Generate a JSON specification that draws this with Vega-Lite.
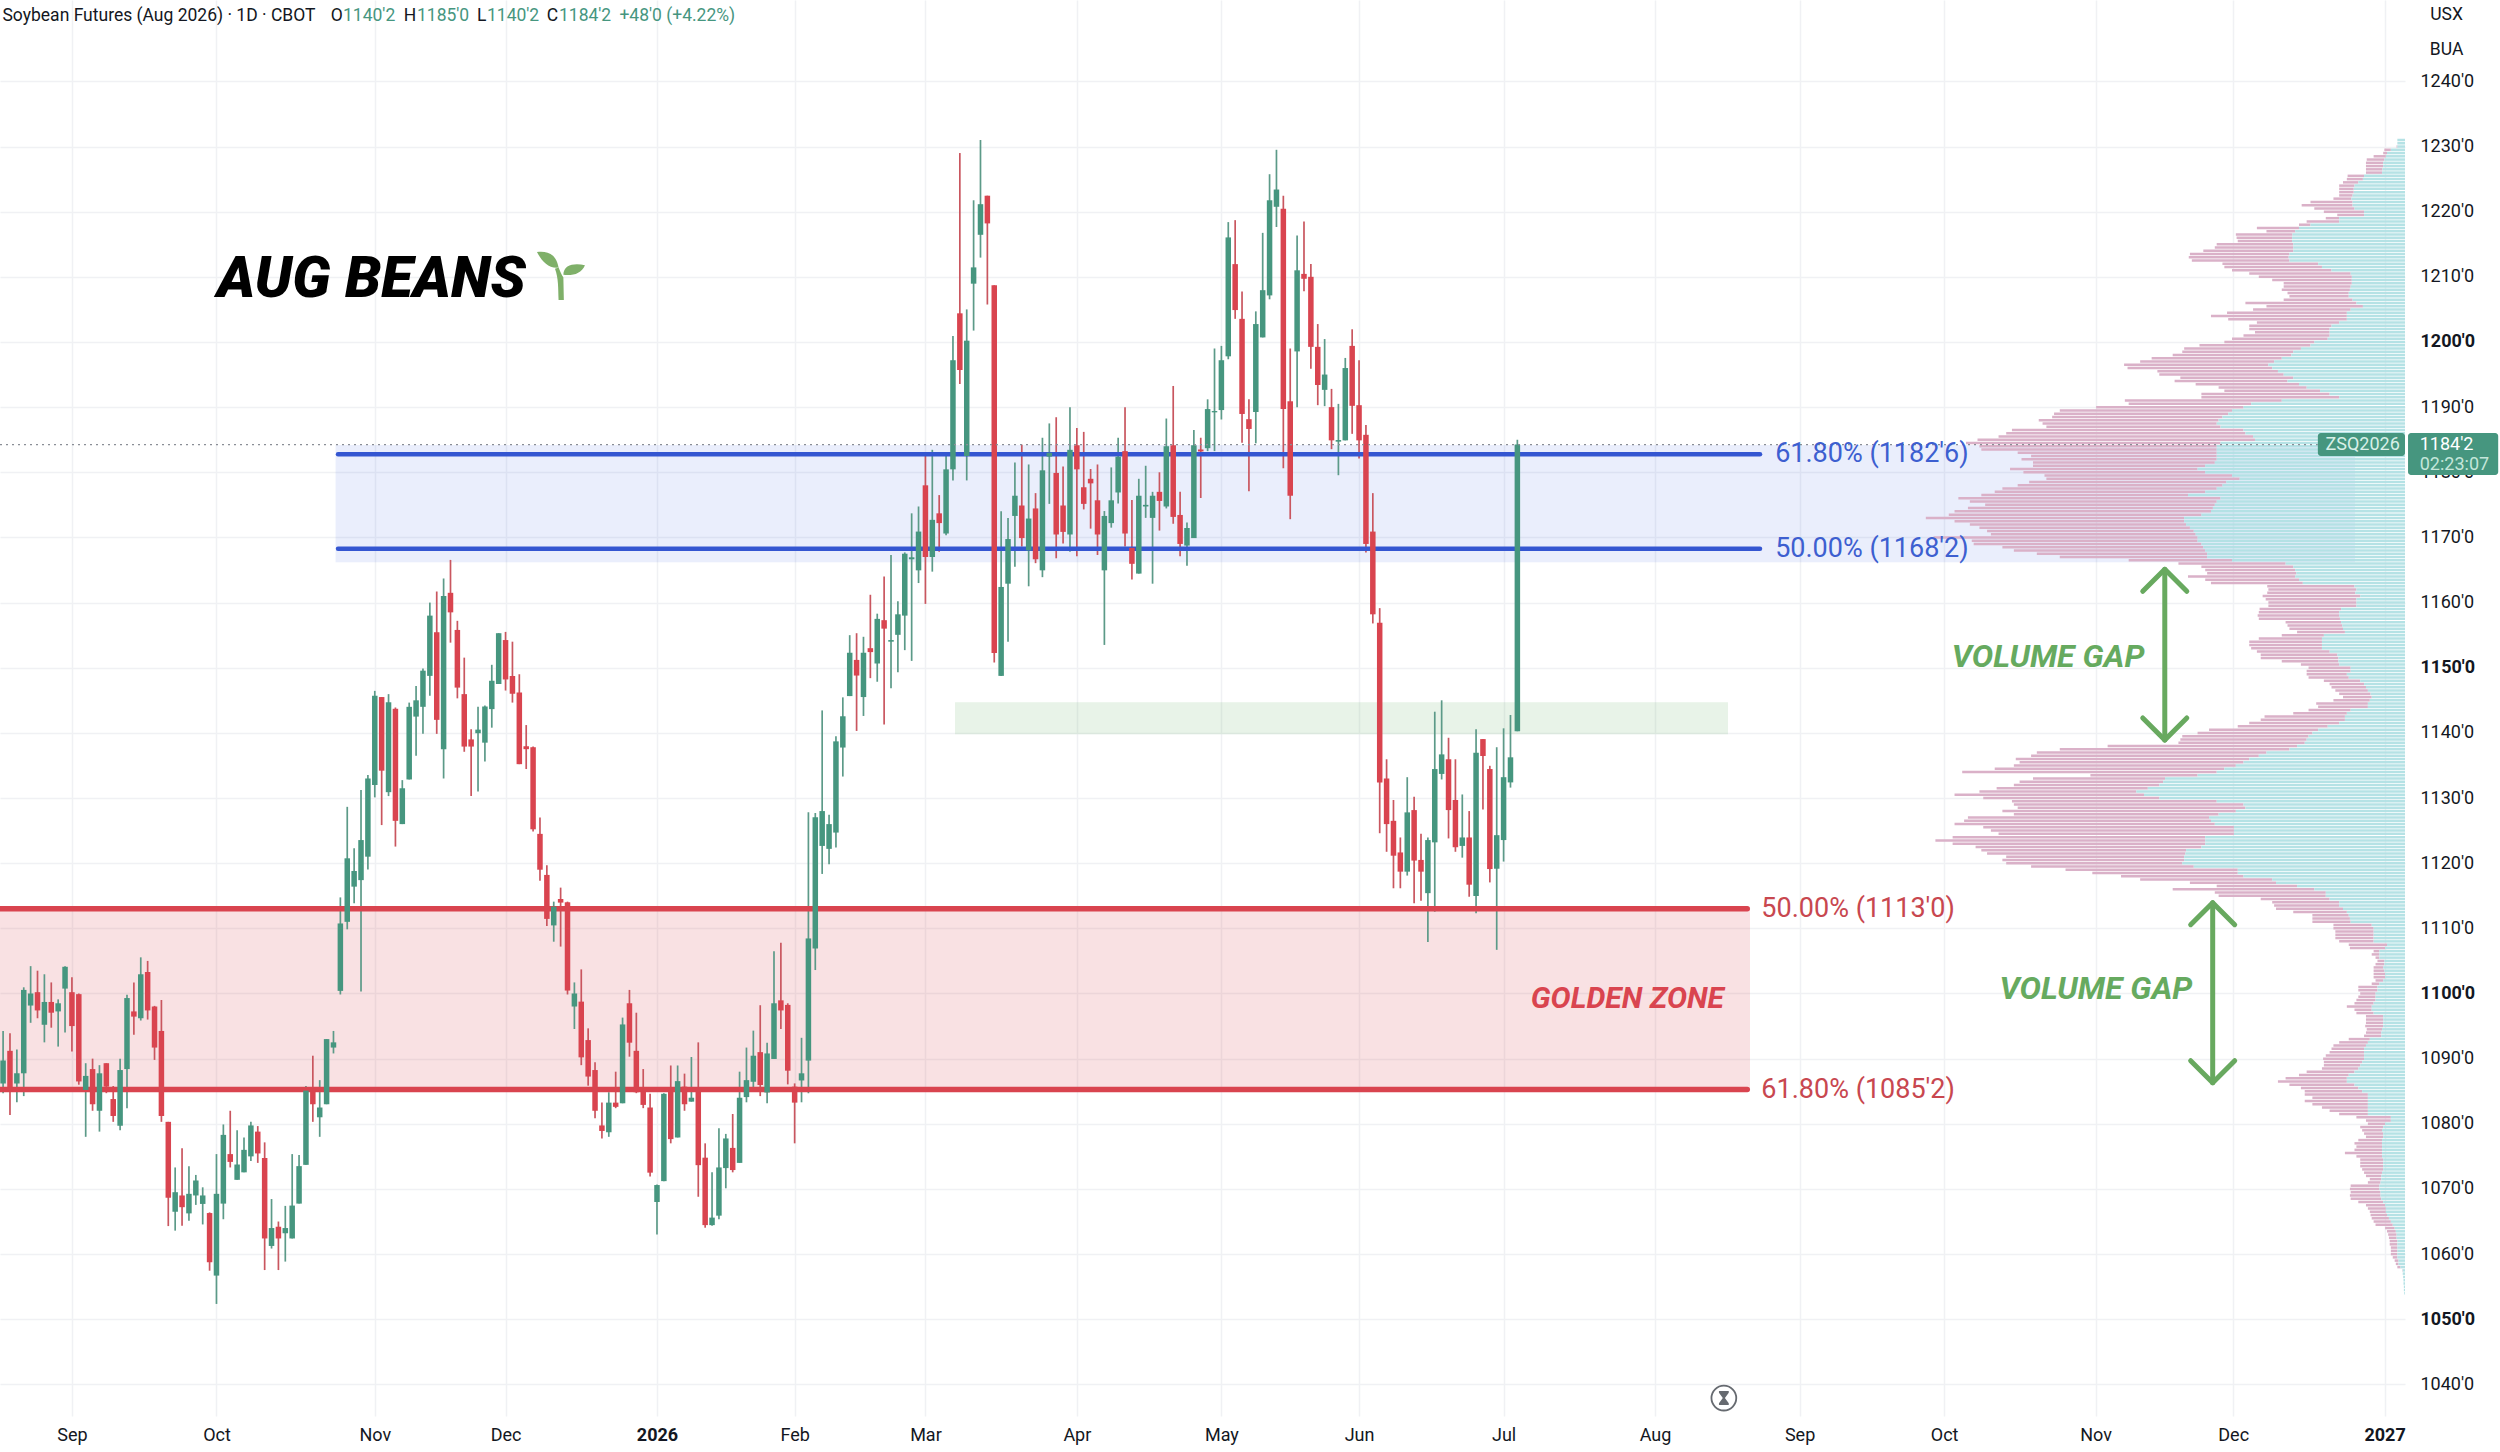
{
"$schema":"https://vega.github.io/schema/vega-lite/v6.json",
"width":2405,"height":1416,
"autosize":{"type":"none"},
"padding":{"left":0,"top":0,"right":95,"bottom":36},
"background":"#ffffff",
"view":{"stroke":null},
"config":{"font":"Roboto","axis":{"labelFont":"Roboto"},"scale":{"continuousPadding":0}},
"resolve":{"scale":{"x":"independent"},"axis":{"x":"independent"}},
"datasets":{
"candles":[
{"i":0,"o":1086.2,"h":1094.25,"l":1084.7,"c":1089.7},
{"i":1,"o":1091.2,"h":1093.9,"l":1081.35,"c":1085.5},
{"i":2,"o":1086.2,"h":1091.4,"l":1083.3,"c":1087.75},
{"i":3,"o":1087.75,"h":1100.95,"l":1084.25,"c":1100.55},
{"i":4,"o":1098.15,"h":1104.2,"l":1095.5,"c":1100},
{"i":5,"o":1100.2,"h":1103.5,"l":1096.2,"c":1097.4},
{"i":6,"o":1095.2,"h":1102.95,"l":1092.5,"c":1098.7},
{"i":7,"o":1098.7,"h":1101.7,"l":1094.75,"c":1097.05},
{"i":8,"o":1097.25,"h":1099.1,"l":1091.85,"c":1098.5},
{"i":9,"o":1100.75,"h":1104.2,"l":1094,"c":1104.1},
{"i":10,"o":1100.2,"h":1102.5,"l":1091.1,"c":1095},
{"i":11,"o":1099.9,"h":1100,"l":1086,"c":1086.5},
{"i":12,"o":1085.2,"h":1089.3,"l":1078,"c":1087.35},
{"i":13,"o":1088.4,"h":1090,"l":1082,"c":1083},
{"i":14,"o":1082,"h":1089,"l":1078.8,"c":1087.75},
{"i":15,"o":1089.3,"h":1089.3,"l":1084.7,"c":1085.7},
{"i":16,"o":1083.8,"h":1085.8,"l":1080.3,"c":1081.2},
{"i":17,"o":1079.7,"h":1090,"l":1079,"c":1088.25},
{"i":18,"o":1088.4,"h":1099.8,"l":1082.4,"c":1099.3},
{"i":19,"o":1097.25,"h":1101.7,"l":1093.65,"c":1096.45},
{"i":20,"o":1096.2,"h":1105.55,"l":1095.85,"c":1102.95},
{"i":21,"o":1103.3,"h":1105,"l":1096,"c":1097.4},
{"i":22,"o":1098,"h":1098.1,"l":1089.8,"c":1091.7},
{"i":23,"o":1094.25,"h":1099,"l":1080.3,"c":1081.2},
{"i":24,"o":1080.3,"h":1080.3,"l":1064.3,"c":1068.65},
{"i":25,"o":1066.5,"h":1073.3,"l":1063.6,"c":1069.5},
{"i":26,"o":1069,"h":1076.25,"l":1064.35,"c":1067.2},
{"i":27,"o":1066.25,"h":1073.5,"l":1065.1,"c":1069.25},
{"i":28,"o":1069,"h":1072.15,"l":1067.55,"c":1071.3},
{"i":29,"o":1067.7,"h":1070.25,"l":1064.55,"c":1069},
{"i":30,"o":1066.3,"h":1066.4,"l":1057.45,"c":1058.75},
{"i":31,"o":1056.7,"h":1075.35,"l":1052.35,"c":1069.25},
{"i":32,"o":1067.75,"h":1079.9,"l":1065.35,"c":1078.3},
{"i":33,"o":1075.35,"h":1082,"l":1073.3,"c":1074.15},
{"i":34,"o":1071.4,"h":1079,"l":1071.4,"c":1073.75},
{"i":35,"o":1072.55,"h":1077.9,"l":1072.55,"c":1076},
{"i":36,"o":1075,"h":1080.3,"l":1074.3,"c":1079.75},
{"i":37,"o":1078.8,"h":1079.65,"l":1074,"c":1075.45},
{"i":38,"o":1074.75,"h":1077.15,"l":1057.55,"c":1062.4},
{"i":39,"o":1061.25,"h":1068.45,"l":1060.85,"c":1064},
{"i":40,"o":1064.2,"h":1065,"l":1057.55,"c":1062.4},
{"i":41,"o":1063.2,"h":1067.4,"l":1058.85,"c":1064},
{"i":42,"o":1062.4,"h":1075.35,"l":1062.4,"c":1067.45},
{"i":43,"o":1067.75,"h":1075.2,"l":1067.75,"c":1073.5},
{"i":44,"o":1073.7,"h":1085.8,"l":1073.7,"c":1085.1},
{"i":45,"o":1085.45,"h":1090.45,"l":1080.3,"c":1083},
{"i":46,"o":1081,"h":1086.7,"l":1078,"c":1082.5},
{"i":47,"o":1083,"h":1093,"l":1083,"c":1093},
{"i":48,"o":1091.7,"h":1094.25,"l":1090.8,"c":1092.5},
{"i":49,"o":1100.4,"h":1114.75,"l":1099.85,"c":1110.75},
{"i":50,"o":1111,"h":1128.65,"l":1109.85,"c":1120.75},
{"i":51,"o":1116.4,"h":1122.3,"l":1113.85,"c":1118.8},
{"i":52,"o":1117.4,"h":1131.25,"l":1100.3,"c":1123.55},
{"i":53,"o":1121,"h":1133.55,"l":1119.05,"c":1133},
{"i":54,"o":1132,"h":1146.45,"l":1130.1,"c":1145.7},
{"i":55,"o":1145.5,"h":1145.5,"l":1125.85,"c":1134.2},
{"i":56,"o":1130.9,"h":1145.95,"l":1130.3,"c":1144.7},
{"i":57,"o":1143.7,"h":1143.9,"l":1122.55,"c":1126.5},
{"i":58,"o":1126,"h":1132.75,"l":1126,"c":1131.5},
{"i":59,"o":1132.85,"h":1144.65,"l":1132.85,"c":1144},
{"i":60,"o":1142.5,"h":1147.2,"l":1136.5,"c":1145},
{"i":61,"o":1144,"h":1149.9,"l":1139.85,"c":1149.55},
{"i":62,"o":1148.75,"h":1160,"l":1145.7,"c":1158},
{"i":63,"o":1155.45,"h":1161.7,"l":1139.85,"c":1142},
{"i":64,"o":1137.5,"h":1163.7,"l":1133,"c":1161},
{"i":65,"o":1161.5,"h":1166.55,"l":1153.85,"c":1158.5},
{"i":66,"o":1155.8,"h":1157.2,"l":1145.3,"c":1146.95},
{"i":67,"o":1145.95,"h":1151.55,"l":1137.1,"c":1137.9},
{"i":68,"o":1139,"h":1140.55,"l":1130.3,"c":1137.9},
{"i":69,"o":1139.95,"h":1144,"l":1131,"c":1140.5},
{"i":70,"o":1138.5,"h":1144.2,"l":1135.6,"c":1144.05},
{"i":71,"o":1143.65,"h":1150.45,"l":1140.8,"c":1148},
{"i":72,"o":1147.5,"h":1155.3,"l":1147.5,"c":1155.3},
{"i":73,"o":1154.25,"h":1155.5,"l":1146.5,"c":1148.2},
{"i":74,"o":1148.75,"h":1154,"l":1144.65,"c":1146},
{"i":75,"o":1146.2,"h":1149,"l":1135.2,"c":1135.2},
{"i":76,"o":1137.95,"h":1141.2,"l":1134.45,"c":1137.5},
{"i":77,"o":1137.8,"h":1137.9,"l":1124.85,"c":1125.2},
{"i":78,"o":1124.5,"h":1127,"l":1117.3,"c":1119},
{"i":79,"o":1118.2,"h":1119.7,"l":1110.35,"c":1111.45},
{"i":80,"o":1110.45,"h":1114.1,"l":1107.95,"c":1113.35},
{"i":81,"o":1114.5,"h":1116.25,"l":1107.2,"c":1113.95},
{"i":82,"o":1114,"h":1114.1,"l":1099.85,"c":1100.45},
{"i":83,"o":1098,"h":1101.7,"l":1094.55,"c":1100},
{"i":84,"o":1098.75,"h":1103.7,"l":1089,"c":1090.2},
{"i":85,"o":1092.85,"h":1094.65,"l":1085.85,"c":1087.25},
{"i":86,"o":1088.25,"h":1089.45,"l":1080.85,"c":1082},
{"i":87,"o":1079.75,"h":1083.25,"l":1077.75,"c":1078.9},
{"i":88,"o":1078.7,"h":1084.85,"l":1078,"c":1083.25},
{"i":89,"o":1083.25,"h":1088,"l":1082.4,"c":1082.6},
{"i":90,"o":1083.15,"h":1096.3,"l":1083.15,"c":1095.25},
{"i":91,"o":1098.5,"h":1100.55,"l":1090.3,"c":1092.45},
{"i":92,"o":1091.2,"h":1097.05,"l":1084.7,"c":1084.85},
{"i":93,"o":1084.95,"h":1088.4,"l":1082.4,"c":1082.9},
{"i":94,"o":1082.5,"h":1084.6,"l":1071.9,"c":1072.5},
{"i":95,"o":1068,"h":1070.7,"l":1063,"c":1070.6},
{"i":96,"o":1071.2,"h":1084.7,"l":1071.2,"c":1084.6},
{"i":97,"o":1085.1,"h":1088.95,"l":1077,"c":1077.65},
{"i":98,"o":1077.9,"h":1088.95,"l":1077.9,"c":1086.55},
{"i":99,"o":1085.7,"h":1087.7,"l":1082,"c":1083},
{"i":100,"o":1083.4,"h":1090.25,"l":1083.4,"c":1084},
{"i":101,"o":1085.45,"h":1092.5,"l":1068.8,"c":1073.65},
{"i":102,"o":1074.8,"h":1077,"l":1064.05,"c":1064.45},
{"i":103,"o":1064.45,"h":1072.55,"l":1064.35,"c":1065.6},
{"i":104,"o":1065.9,"h":1079.3,"l":1065.35,"c":1073.3},
{"i":105,"o":1073.2,"h":1078.45,"l":1070.1,"c":1077.75},
{"i":106,"o":1076.3,"h":1081.5,"l":1072.55,"c":1072.9},
{"i":107,"o":1074,"h":1088,"l":1074,"c":1084},
{"i":108,"o":1084.1,"h":1091.7,"l":1083.3,"c":1086.7},
{"i":109,"o":1086.45,"h":1094.3,"l":1084.9,"c":1090.45},
{"i":110,"o":1091,"h":1098.2,"l":1084.25,"c":1085.95},
{"i":111,"o":1084.8,"h":1092.45,"l":1083.15,"c":1090.8},
{"i":112,"o":1089.95,"h":1106.5,"l":1089.95,"c":1098.5},
{"i":113,"o":1098.95,"h":1107.8,"l":1094.55,"c":1097.4},
{"i":114,"o":1098.25,"h":1098.5,"l":1086.05,"c":1088.15},
{"i":115,"o":1085.7,"h":1086.2,"l":1077,"c":1083.25},
{"i":116,"o":1086.65,"h":1093.2,"l":1083.3,"c":1087.75},
{"i":117,"o":1089.7,"h":1127.8,"l":1084.7,"c":1108.45},
{"i":118,"o":1106.9,"h":1127.7,"l":1103.6,"c":1127.05},
{"i":119,"o":1122.65,"h":1143.45,"l":1118.35,"c":1128},
{"i":120,"o":1122.2,"h":1127.45,"l":1119.85,"c":1126},
{"i":121,"o":1124.7,"h":1139.5,"l":1122.4,"c":1138.7},
{"i":122,"o":1137.75,"h":1145.45,"l":1133.3,"c":1142.55},
{"i":123,"o":1145.65,"h":1155,"l":1145.65,"c":1152.3},
{"i":124,"o":1151.2,"h":1155.3,"l":1140.3,"c":1148.8},
{"i":125,"o":1145.5,"h":1154.75,"l":1142.6,"c":1152.3},
{"i":126,"o":1153,"h":1161.2,"l":1148.4,"c":1152.4},
{"i":127,"o":1150.65,"h":1158.3,"l":1147.85,"c":1157.5},
{"i":128,"o":1157.3,"h":1164,"l":1141.3,"c":1156},
{"i":129,"o":1154,"h":1167.3,"l":1146.85,"c":1154.25},
{"i":130,"o":1155.05,"h":1160.2,"l":1149.3,"c":1158.2},
{"i":131,"o":1158,"h":1167.7,"l":1152.7,"c":1167.5},
{"i":132,"o":1166.65,"h":1173.7,"l":1151.05,"c":1166.95},
{"i":133,"o":1164.95,"h":1174.75,"l":1163,"c":1170.9},
{"i":134,"o":1178,"h":1182.65,"l":1159.8,"c":1167},
{"i":135,"o":1167,"h":1183.45,"l":1164.75,"c":1172.7},
{"i":136,"o":1173.7,"h":1176.5,"l":1167.8,"c":1172.2},
{"i":137,"o":1170.6,"h":1183.1,"l":1170.35,"c":1180.45},
{"i":138,"o":1180.45,"h":1200.9,"l":1178.75,"c":1197.2},
{"i":139,"o":1204.4,"h":1229,"l":1193.55,"c":1195.7},
{"i":140,"o":1182.5,"h":1205,"l":1178.75,"c":1200.2},
{"i":141,"o":1208.95,"h":1221.75,"l":1201.75,"c":1211.45},
{"i":142,"o":1216.45,"h":1231,"l":1212.95,"c":1221.15},
{"i":143,"o":1222.45,"h":1222.45,"l":1205.75,"c":1218.2},
{"i":144,"o":1208.7,"h":1208.7,"l":1150.8,"c":1152.25},
{"i":145,"o":1148.75,"h":1174,"l":1148.75,"c":1162.4},
{"i":146,"o":1162.9,"h":1173,"l":1154,"c":1169.75},
{"i":147,"o":1173.3,"h":1181.5,"l":1165.5,"c":1176.4},
{"i":148,"o":1174.9,"h":1184.25,"l":1168.6,"c":1169.9},
{"i":149,"o":1168,"h":1181.2,"l":1162.5,"c":1172.9},
{"i":150,"o":1174.45,"h":1176.8,"l":1166.05,"c":1166.65},
{"i":151,"o":1164.95,"h":1185.3,"l":1163.9,"c":1180.3},
{"i":152,"o":1182.4,"h":1187.5,"l":1175.15,"c":1183},
{"i":153,"o":1179.9,"h":1188.45,"l":1166.8,"c":1170.45},
{"i":154,"o":1174.9,"h":1180.9,"l":1169.05,"c":1170.85},
{"i":155,"o":1170.45,"h":1190,"l":1167.8,"c":1183.45},
{"i":156,"o":1184.15,"h":1186.8,"l":1167.1,"c":1180.45},
{"i":157,"o":1177.7,"h":1186.2,"l":1174.3,"c":1175.15},
{"i":158,"o":1179,"h":1180.5,"l":1171.35,"c":1178.3},
{"i":159,"o":1175.7,"h":1181.2,"l":1167.3,"c":1170.45},
{"i":160,"o":1164.95,"h":1174.05,"l":1153.5,"c":1173.3},
{"i":161,"o":1172.2,"h":1180.75,"l":1171.5,"c":1175.7},
{"i":162,"o":1176.9,"h":1185.3,"l":1175.2,"c":1182.4},
{"i":163,"o":1183.25,"h":1190,"l":1168.6,"c":1170.6},
{"i":164,"o":1168.4,"h":1175.75,"l":1163.55,"c":1165.95},
{"i":165,"o":1164.45,"h":1179,"l":1164.45,"c":1176.4},
{"i":166,"o":1174.75,"h":1181,"l":1173,"c":1175},
{"i":167,"o":1173,"h":1177,"l":1162.9,"c":1176.4},
{"i":168,"o":1177,"h":1180,"l":1171.05,"c":1175.6},
{"i":169,"o":1174.75,"h":1188.25,"l":1174.45,"c":1184},
{"i":170,"o":1184.15,"h":1193.25,"l":1172.1,"c":1173.15},
{"i":171,"o":1173.45,"h":1177,"l":1167.1,"c":1169},
{"i":172,"o":1168.75,"h":1172.3,"l":1165.65,"c":1171.45},
{"i":173,"o":1169.9,"h":1186.5,"l":1169.9,"c":1184.15},
{"i":174,"o":1183.5,"h":1185.3,"l":1176.05,"c":1183.2},
{"i":175,"o":1183.7,"h":1191.2,"l":1183.25,"c":1189.7},
{"i":176,"o":1189.2,"h":1199,"l":1183.25,"c":1189.4},
{"i":177,"o":1189.55,"h":1199.4,"l":1188.1,"c":1197.2},
{"i":178,"o":1197.8,"h":1218.4,"l":1197.35,"c":1216.05},
{"i":179,"o":1211.95,"h":1218.7,"l":1203.55,"c":1204.9},
{"i":180,"o":1203.55,"h":1207.75,"l":1184.55,"c":1188.95},
{"i":181,"o":1188.15,"h":1191.2,"l":1177.1,"c":1186.65},
{"i":182,"o":1189.25,"h":1204.7,"l":1184.45,"c":1202.75},
{"i":183,"o":1200.7,"h":1216.75,"l":1200.7,"c":1207.95},
{"i":184,"o":1207.15,"h":1225.75,"l":1206.55,"c":1221.75},
{"i":185,"o":1220.75,"h":1229.5,"l":1217.65,"c":1223.4},
{"i":186,"o":1220.45,"h":1222.45,"l":1180.6,"c":1189.7},
{"i":187,"o":1190.9,"h":1199,"l":1172.8,"c":1176.4},
{"i":188,"o":1198.55,"h":1216.35,"l":1190,"c":1211},
{"i":189,"o":1210.45,"h":1218.5,"l":1207.8,"c":1209.7},
{"i":190,"o":1210,"h":1211.95,"l":1195.9,"c":1199.25},
{"i":191,"o":1199.25,"h":1202.75,"l":1190.3,"c":1193.4},
{"i":192,"o":1192.65,"h":1200.45,"l":1190.15,"c":1195},
{"i":193,"o":1190,"h":1192.8,"l":1183.55,"c":1184.9},
{"i":194,"o":1184.7,"h":1190.5,"l":1179.55,"c":1184.95},
{"i":195,"o":1184.9,"h":1197.55,"l":1184.9,"c":1196},
{"i":196,"o":1199.4,"h":1201.95,"l":1185.9,"c":1190.2},
{"i":197,"o":1190.3,"h":1197.2,"l":1182.1,"c":1184.9},
{"i":198,"o":1185.75,"h":1187.25,"l":1167.7,"c":1169},
{"i":199,"o":1170.9,"h":1176.8,"l":1156.8,"c":1158.2},
{"i":200,"o":1156.9,"h":1159.15,"l":1124.6,"c":1132.4},
{"i":201,"o":1133,"h":1135.95,"l":1121.75,"c":1126},
{"i":202,"o":1126.5,"h":1129.7,"l":1116.15,"c":1121.15},
{"i":203,"o":1121.65,"h":1123.95,"l":1116.15,"c":1118.7},
{"i":204,"o":1118.7,"h":1133.2,"l":1118.1,"c":1127.8},
{"i":205,"o":1128.15,"h":1130.2,"l":1113.85,"c":1120.4},
{"i":206,"o":1120.5,"h":1124.5,"l":1114.25,"c":1118.7},
{"i":207,"o":1115.4,"h":1123.95,"l":1107.9,"c":1123.55},
{"i":208,"o":1123.2,"h":1143.25,"l":1112.55,"c":1134.45},
{"i":209,"o":1133.7,"h":1145,"l":1132.85,"c":1136.7},
{"i":210,"o":1135.95,"h":1139.25,"l":1123.8,"c":1128.15},
{"i":211,"o":1129.7,"h":1135.95,"l":1121.75,"c":1122.45},
{"i":212,"o":1122.65,"h":1130.55,"l":1120.85,"c":1123.95},
{"i":213,"o":1123.95,"h":1128,"l":1114.85,"c":1116.7},
{"i":214,"o":1114.95,"h":1140.55,"l":1112.3,"c":1136.95},
{"i":215,"o":1139.05,"h":1139.05,"l":1128.25,"c":1136.45},
{"i":216,"o":1134.45,"h":1134.95,"l":1117.05,"c":1119.1},
{"i":217,"o":1119.15,"h":1137.8,"l":1106.7,"c":1124.3},
{"i":218,"o":1123.55,"h":1140.7,"l":1120.25,"c":1133.2},
{"i":219,"o":1132.4,"h":1142.75,"l":1131.6,"c":1136.25},
{"i":220,"o":1140.25,"h":1185,"l":1140.25,"c":1184.25}
],
"profile":[
{"p":1231,"t":20,"u":20},{"p":1230.5,"t":20,"u":20},{"p":1230,"t":22,"u":20},{"p":1229.5,"t":54,"u":37},{"p":1229,"t":57,"u":47},{"p":1228.5,"t":82,"u":50},{"p":1228,"t":100,"u":54},{"p":1227.5,"t":102,"u":57},{"p":1227,"t":102,"u":57},{"p":1226.5,"t":102,"u":59},{"p":1226,"t":102,"u":60},{"p":1225.5,"t":150,"u":107},{"p":1225,"t":152,"u":110},{"p":1224.5,"t":162,"u":122},{"p":1224,"t":172,"u":132},{"p":1223.5,"t":172,"u":134},{"p":1223,"t":172,"u":134},{"p":1222.5,"t":172,"u":137},{"p":1222,"t":187,"u":140},{"p":1221.5,"t":247,"u":137},{"p":1221,"t":270,"u":137},{"p":1220.5,"t":237,"u":132},{"p":1220,"t":212,"u":107},{"p":1219.5,"t":177,"u":107},{"p":1219,"t":207,"u":172},{"p":1218.5,"t":257,"u":172},{"p":1218,"t":277,"u":247},{"p":1217.5,"t":387,"u":277},{"p":1217,"t":362,"u":287},{"p":1216.5,"t":442,"u":294},{"p":1216,"t":440,"u":295},{"p":1215.5,"t":437,"u":295},{"p":1215,"t":492,"u":292},{"p":1214.5,"t":497,"u":292},{"p":1214,"t":527,"u":292},{"p":1213.5,"t":562,"u":302},{"p":1213,"t":565,"u":304},{"p":1212.5,"t":557,"u":302},{"p":1212,"t":477,"u":227},{"p":1211.5,"t":472,"u":217},{"p":1211,"t":452,"u":192},{"p":1210.5,"t":407,"u":142},{"p":1210,"t":382,"u":139},{"p":1209.5,"t":347,"u":139},{"p":1209,"t":317,"u":139},{"p":1208.5,"t":317,"u":142},{"p":1208,"t":322,"u":144},{"p":1207.5,"t":307,"u":147},{"p":1207,"t":302,"u":147},{"p":1206.5,"t":317,"u":137},{"p":1206,"t":417,"u":127},{"p":1205.5,"t":362,"u":110},{"p":1205,"t":397,"u":142},{"p":1204.5,"t":465,"u":152},{"p":1204,"t":507,"u":152},{"p":1203.5,"t":462,"u":152},{"p":1203,"t":387,"u":172},{"p":1202.5,"t":407,"u":192},{"p":1202,"t":407,"u":197},{"p":1201.5,"t":392,"u":197},{"p":1201,"t":422,"u":197},{"p":1200.5,"t":452,"u":202},{"p":1200,"t":472,"u":237},{"p":1199.5,"t":537,"u":247},{"p":1199,"t":577,"u":272},{"p":1198.5,"t":582,"u":292},{"p":1198,"t":607,"u":297},{"p":1197.5,"t":662,"u":322},{"p":1197,"t":692,"u":342},{"p":1196.5,"t":734,"u":357},{"p":1196,"t":725,"u":347},{"p":1195.5,"t":647,"u":332},{"p":1195,"t":642,"u":317},{"p":1194.5,"t":587,"u":292},{"p":1194,"t":602,"u":307},{"p":1193.5,"t":547,"u":277},{"p":1193,"t":487,"u":257},{"p":1192.5,"t":472,"u":222},{"p":1192,"t":532,"u":197},{"p":1191.5,"t":532,"u":172},{"p":1191,"t":732,"u":322},{"p":1190.5,"t":722,"u":402},{"p":1190,"t":807,"u":422},{"p":1189.5,"t":902,"u":452},{"p":1189,"t":917,"u":462},{"p":1188.5,"t":922,"u":477},{"p":1188,"t":957,"u":487},{"p":1187.5,"t":947,"u":492},{"p":1187,"t":937,"u":482},{"p":1186.5,"t":1027,"u":422},{"p":1186,"t":1042,"u":417},{"p":1185.5,"t":1062,"u":397},{"p":1185,"t":1117,"u":392},{"p":1184.5,"t":1147,"u":482},{"p":1184,"t":1112,"u":492},{"p":1183.5,"t":1107,"u":492},{"p":1183,"t":1012,"u":492},{"p":1182.5,"t":977,"u":492},{"p":1182,"t":1002,"u":492},{"p":1181.5,"t":972,"u":497},{"p":1181,"t":972,"u":522},{"p":1180.5,"t":1032,"u":542},{"p":1180,"t":997,"u":522},{"p":1179.5,"t":942,"u":452},{"p":1179,"t":937,"u":432},{"p":1178.5,"t":982,"u":467},{"p":1178,"t":1012,"u":477},{"p":1177.5,"t":1052,"u":492},{"p":1177,"t":1072,"u":522},{"p":1176.5,"t":1107,"u":567},{"p":1176,"t":1167,"u":482},{"p":1175.5,"t":1137,"u":492},{"p":1175,"t":1097,"u":497},{"p":1174.5,"t":1142,"u":502},{"p":1174,"t":1177,"u":507},{"p":1173.5,"t":1192,"u":532},{"p":1173,"t":1252,"u":577},{"p":1172.5,"t":1177,"u":577},{"p":1172,"t":1137,"u":572},{"p":1171.5,"t":1112,"u":562},{"p":1171,"t":1092,"u":552},{"p":1170.5,"t":1082,"u":547},{"p":1170,"t":1232,"u":542},{"p":1169.5,"t":1132,"u":542},{"p":1169,"t":1127,"u":532},{"p":1168.5,"t":1052,"u":527},{"p":1168,"t":1022,"u":522},{"p":1167.5,"t":962,"u":517},{"p":1167,"t":902,"u":517},{"p":1166.5,"t":722,"u":452},{"p":1166,"t":592,"u":312},{"p":1165.5,"t":532,"u":292},{"p":1165,"t":522,"u":287},{"p":1164.5,"t":517,"u":284},{"p":1164,"t":567,"u":287},{"p":1163.5,"t":522,"u":277},{"p":1163,"t":507,"u":267},{"p":1162.5,"t":360,"u":132},{"p":1162,"t":357,"u":127},{"p":1161.5,"t":360,"u":130},{"p":1161,"t":372,"u":117},{"p":1160.5,"t":364,"u":127},{"p":1160,"t":357,"u":127},{"p":1159.5,"t":357,"u":127},{"p":1159,"t":380,"u":167},{"p":1158.5,"t":382,"u":172},{"p":1158,"t":385,"u":172},{"p":1157.5,"t":382,"u":170},{"p":1157,"t":312,"u":167},{"p":1156.5,"t":307,"u":164},{"p":1156,"t":302,"u":162},{"p":1155.5,"t":282,"u":157},{"p":1155,"t":322,"u":212},{"p":1154.5,"t":382,"u":217},{"p":1154,"t":407,"u":217},{"p":1153.5,"t":407,"u":217},{"p":1153,"t":402,"u":217},{"p":1152.5,"t":387,"u":197},{"p":1152,"t":377,"u":177},{"p":1151.5,"t":377,"u":174},{"p":1151,"t":322,"u":174},{"p":1150.5,"t":272,"u":172},{"p":1150,"t":252,"u":142},{"p":1149.5,"t":257,"u":142},{"p":1149,"t":257,"u":152},{"p":1148.5,"t":252,"u":147},{"p":1148,"t":212,"u":117},{"p":1147.5,"t":197,"u":107},{"p":1147,"t":192,"u":102},{"p":1146.5,"t":182,"u":97},{"p":1146,"t":172,"u":90},{"p":1145.5,"t":162,"u":87},{"p":1145,"t":187,"u":92},{"p":1144.5,"t":232,"u":97},{"p":1144,"t":227,"u":97},{"p":1143.5,"t":252,"u":142},{"p":1143,"t":292,"u":152},{"p":1142.5,"t":367,"u":157},{"p":1142,"t":377,"u":157},{"p":1141.5,"t":407,"u":172},{"p":1141,"t":437,"u":202},{"p":1140.5,"t":512,"u":227},{"p":1140,"t":542,"u":242},{"p":1139.5,"t":582,"u":252},{"p":1139,"t":587,"u":257},{"p":1138.5,"t":592,"u":262},{"p":1138,"t":777,"u":282},{"p":1137.5,"t":902,"u":302},{"p":1137,"t":962,"u":362},{"p":1136.5,"t":977,"u":382},{"p":1136,"t":1017,"u":407},{"p":1135.5,"t":1007,"u":422},{"p":1135,"t":1022,"u":442},{"p":1134.5,"t":1072,"u":472},{"p":1134,"t":1157,"u":492},{"p":1133.5,"t":822,"u":542},{"p":1133,"t":972,"u":627},{"p":1132.5,"t":1007,"u":632},{"p":1132,"t":1022,"u":642},{"p":1131.5,"t":1067,"u":672},{"p":1131,"t":1112,"u":702},{"p":1130.5,"t":1177,"u":682},{"p":1130,"t":1102,"u":642},{"p":1129.5,"t":1027,"u":492},{"p":1129,"t":1022,"u":422},{"p":1128.5,"t":1012,"u":417},{"p":1128,"t":1052,"u":442},{"p":1127.5,"t":1022,"u":487},{"p":1127,"t":1142,"u":512},{"p":1126.5,"t":1152,"u":507},{"p":1126,"t":1177,"u":497},{"p":1125.5,"t":1102,"u":447},{"p":1125,"t":1082,"u":447},{"p":1124.5,"t":1062,"u":447},{"p":1124,"t":1182,"u":522},{"p":1123.5,"t":1227,"u":522},{"p":1123,"t":1182,"u":522},{"p":1122.5,"t":1122,"u":532},{"p":1122,"t":1107,"u":572},{"p":1121.5,"t":1092,"u":574},{"p":1121,"t":1042,"u":577},{"p":1120.5,"t":1052,"u":577},{"p":1120,"t":1042,"u":582},{"p":1119.5,"t":977,"u":552},{"p":1119,"t":887,"u":437},{"p":1118.5,"t":817,"u":437},{"p":1118,"t":742,"u":422},{"p":1117.5,"t":692,"u":347},{"p":1117,"t":562,"u":337},{"p":1116.5,"t":492,"u":282},{"p":1116,"t":607,"u":237},{"p":1115.5,"t":497,"u":207},{"p":1115,"t":487,"u":207},{"p":1114.5,"t":377,"u":197},{"p":1114,"t":347,"u":172},{"p":1113.5,"t":342,"u":172},{"p":1113,"t":337,"u":162},{"p":1112.5,"t":292,"u":152},{"p":1112,"t":242,"u":147},{"p":1111.5,"t":242,"u":144},{"p":1111,"t":242,"u":142},{"p":1110.5,"t":187,"u":87},{"p":1110,"t":187,"u":82},{"p":1109.5,"t":182,"u":82},{"p":1109,"t":182,"u":82},{"p":1108.5,"t":182,"u":82},{"p":1108,"t":172,"u":82},{"p":1107.5,"t":147,"u":47},{"p":1107,"t":144,"u":52},{"p":1106.5,"t":82,"u":67},{"p":1106,"t":87,"u":67},{"p":1105.5,"t":77,"u":67},{"p":1105,"t":72,"u":54},{"p":1104.5,"t":77,"u":54},{"p":1104,"t":82,"u":57},{"p":1103.5,"t":82,"u":54},{"p":1103,"t":82,"u":52},{"p":1102.5,"t":82,"u":52},{"p":1102,"t":77,"u":57},{"p":1101.5,"t":87,"u":67},{"p":1101,"t":122,"u":72},{"p":1100.5,"t":122,"u":72},{"p":1100,"t":117,"u":77},{"p":1099.5,"t":122,"u":77},{"p":1099,"t":127,"u":77},{"p":1098.5,"t":132,"u":82},{"p":1098,"t":152,"u":87},{"p":1097.5,"t":132,"u":87},{"p":1097,"t":127,"u":82},{"p":1096.5,"t":102,"u":57},{"p":1096,"t":102,"u":57},{"p":1095.5,"t":102,"u":57},{"p":1095,"t":104,"u":57},{"p":1094.5,"t":100,"u":60},{"p":1094,"t":102,"u":62},{"p":1093.5,"t":107,"u":62},{"p":1093,"t":147,"u":92},{"p":1092.5,"t":172,"u":97},{"p":1092,"t":187,"u":102},{"p":1091.5,"t":192,"u":107},{"p":1091,"t":197,"u":107},{"p":1090.5,"t":207,"u":107},{"p":1090,"t":214,"u":107},{"p":1089.5,"t":212,"u":112},{"p":1089,"t":212,"u":117},{"p":1088.5,"t":217,"u":122},{"p":1088,"t":257,"u":132},{"p":1087.5,"t":277,"u":147},{"p":1087,"t":312,"u":152},{"p":1086.5,"t":332,"u":152},{"p":1086,"t":302,"u":132},{"p":1085.5,"t":272,"u":122},{"p":1085,"t":262,"u":112},{"p":1084.5,"t":262,"u":97},{"p":1084,"t":242,"u":97},{"p":1083.5,"t":262,"u":97},{"p":1083,"t":242,"u":97},{"p":1082.5,"t":217,"u":97},{"p":1082,"t":197,"u":97},{"p":1081.5,"t":172,"u":97},{"p":1081,"t":127,"u":37},{"p":1080.5,"t":102,"u":37},{"p":1080,"t":97,"u":52},{"p":1079.5,"t":117,"u":57},{"p":1079,"t":112,"u":60},{"p":1078.5,"t":107,"u":57},{"p":1078,"t":102,"u":57},{"p":1077.5,"t":122,"u":60},{"p":1077,"t":132,"u":60},{"p":1076.5,"t":127,"u":60},{"p":1076,"t":132,"u":60},{"p":1075.5,"t":157,"u":60},{"p":1075,"t":127,"u":60},{"p":1074.5,"t":117,"u":57},{"p":1074,"t":117,"u":57},{"p":1073.5,"t":117,"u":57},{"p":1073,"t":112,"u":57},{"p":1072.5,"t":107,"u":60},{"p":1072,"t":102,"u":62},{"p":1071.5,"t":92,"u":62},{"p":1071,"t":97,"u":64},{"p":1070.5,"t":142,"u":67},{"p":1070,"t":144,"u":67},{"p":1069.5,"t":142,"u":64},{"p":1069,"t":144,"u":64},{"p":1068.5,"t":142,"u":62},{"p":1068,"t":122,"u":57},{"p":1067.5,"t":102,"u":52},{"p":1067,"t":97,"u":50},{"p":1066.5,"t":92,"u":50},{"p":1066,"t":90,"u":47},{"p":1065.5,"t":87,"u":42},{"p":1065,"t":82,"u":37},{"p":1064.5,"t":77,"u":32},{"p":1064,"t":52,"u":27},{"p":1063.5,"t":47,"u":24},{"p":1063,"t":44,"u":22},{"p":1062.5,"t":42,"u":22},{"p":1062,"t":40,"u":20},{"p":1061.5,"t":40,"u":20},{"p":1061,"t":37,"u":20},{"p":1060.5,"t":37,"u":20},{"p":1060,"t":37,"u":20},{"p":1059.5,"t":32,"u":20},{"p":1059,"t":27,"u":17},{"p":1058.5,"t":24,"u":17},{"p":1058,"t":20,"u":12},{"p":1057.5,"t":7,"u":6},{"p":1057,"t":6,"u":6},{"p":1056.5,"t":5,"u":5},{"p":1056,"t":4,"u":4},{"p":1055.5,"t":4,"u":4},{"p":1055,"t":3,"u":3},{"p":1054.5,"t":3,"u":3},{"p":1054,"t":2,"u":2}
],
"arrows":[
{"id":"a","k":0,"i":314.06,"p":1165.11},{"id":"a","k":1,"i":314.06,"p":1138.91},
{"id":"b","k":0,"i":310.86,"p":1161.73},{"id":"b","k":1,"i":314.06,"p":1165.11},{"id":"b","k":2,"i":317.26,"p":1161.73},
{"id":"c","k":0,"i":310.86,"p":1142.29},{"id":"c","k":1,"i":314.06,"p":1138.91},{"id":"c","k":2,"i":317.26,"p":1142.29},
{"id":"d","k":0,"i":321.02,"p":1113.94},{"id":"d","k":1,"i":321.02,"p":1086.31},
{"id":"e","k":0,"i":317.82,"p":1110.56},{"id":"e","k":1,"i":321.02,"p":1113.94},{"id":"e","k":2,"i":324.22,"p":1110.56},
{"id":"f","k":0,"i":317.82,"p":1089.69},{"id":"f","k":1,"i":321.02,"p":1086.31},{"id":"f","k":2,"i":324.22,"p":1089.69}
]
},
"layer":[
{
"layer":[
{"data":{"values":[{"i":48.3,"i2":341.7,"p":1184.2,"p2":1166.2}]},"mark":{"type":"rect","color":"#3c64e6","opacity":0.11},"encoding":{"x2":{"field":"i2"},"y2":{"field":"p2"}}},
{"data":{"values":[{"i":-0.45,"i2":253.8,"p":1113,"p2":1085.25}]},"mark":{"type":"rect","color":"#d9444f","opacity":0.16},"encoding":{"x2":{"field":"i2"},"y2":{"field":"p2"}}},
{"data":{"values":[{"i":138.3,"i2":250.6,"p":1144.7,"p2":1139.8}]},"mark":{"type":"rect","color":"#5aaa5a","opacity":0.14},"encoding":{"x2":{"field":"i2"},"y2":{"field":"p2"}}}
],
"encoding":{
"x":{"field":"i","type":"quantitative","title":null,"scale":{"domain":[-0.45,348.96],"nice":false,"zero":false},
"axis":{"values":[10,31,54,73,95,115,134,156,177,197,218,240,261,282,304,324,346],
"labelExpr":"['Sep','Oct','Nov','Dec','2026','Feb','Mar','Apr','May','Jun','Jul','Aug','Sep','Oct','Nov','Dec','2027'][indexof([10,31,54,73,95,115,134,156,177,197,218,240,261,282,304,324,346],datum.value)]",
"labelFontSize":18,"labelColor":"#131722","labelPadding":10,"labelOverlap":false,"labelFlush":false,"ticks":false,"domain":false,"gridColor":"#f0f1f4","gridWidth":1.5,
"labelFontWeight":{"condition":{"test":"datum.value==95||datum.value==346","value":"bold"},"value":"normal"}}},
"y":{"field":"p","type":"quantitative","title":null,"scale":{"domain":[1035.15,1252.49],"nice":false,"zero":false},
"axis":{"orient":"right","values":[1040,1050,1060,1070,1080,1090,1100,1110,1120,1130,1140,1150,1160,1170,1180,1190,1200,1210,1220,1230,1240],"labelExpr":"datum.value+\"'0\"","labelFontSize":18,"labelColor":"#131722","labelPadding":15,"labelOverlap":false,"labelFlush":false,"ticks":false,"domain":false,"gridColor":"#f0f1f4","gridWidth":1.5,"labelFontWeight":{"condition":{"test":"datum.value%50==0","value":"bold"},"value":"normal"}}}
}
},
{
"data":{"name":"profile"},
"layer":[
{"mark":{"type":"bar","orient":"horizontal","size":2.5,"color":"#dab1c8"},"encoding":{"x":{"field":"t","type":"quantitative","title":null,"stack":null,"axis":null,"scale":{"domain":[0,6284],"reverse":true,"nice":false,"zero":false}},"x2":{"field":"u"}}},
{"mark":{"type":"bar","orient":"horizontal","size":2.5,"color":"#afdfe3","opacity":0.92},"encoding":{"x":{"field":"u","type":"quantitative","title":null,"stack":null,"axis":null,"scale":{"domain":[0,6284],"reverse":true,"nice":false,"zero":false}}}}
],
"encoding":{
"y":{"field":"p","type":"quantitative","title":null,"scale":{"domain":[1035.15,1252.49],"nice":false,"zero":false},
"axis":{"orient":"right","values":[1040,1050,1060,1070,1080,1090,1100,1110,1120,1130,1140,1150,1160,1170,1180,1190,1200,1210,1220,1230,1240],"labelExpr":"datum.value+\"'0\"","labelFontSize":18,"labelColor":"#131722","labelPadding":15,"labelOverlap":false,"labelFlush":false,"ticks":false,"domain":false,"gridColor":"#f0f1f4","gridWidth":1.5,"labelFontWeight":{"condition":{"test":"datum.value%50==0","value":"bold"},"value":"normal"}}}
}
},
{
"encoding":{
"x":{"field":"i","type":"quantitative","title":null,"axis":null,"scale":{"domain":[-0.45,348.96],"nice":false,"zero":false}},
"y":{"field":"p","type":"quantitative","title":null,"scale":{"domain":[1035.15,1252.49],"nice":false,"zero":false},
"axis":{"orient":"right","values":[1040,1050,1060,1070,1080,1090,1100,1110,1120,1130,1140,1150,1160,1170,1180,1190,1200,1210,1220,1230,1240],"labelExpr":"datum.value+\"'0\"","labelFontSize":18,"labelColor":"#131722","labelPadding":15,"labelOverlap":false,"labelFlush":false,"ticks":false,"domain":false,"gridColor":"#f0f1f4","gridWidth":1.5,"labelFontWeight":{"condition":{"test":"datum.value%50==0","value":"bold"},"value":"normal"}}}
},
"layer":[
{"data":{"name":"candles"},"mark":{"type":"rule","strokeWidth":1.7},
"encoding":{"y":{"field":"h","type":"quantitative","title":null,"scale":{"domain":[1035.15,1252.49],"nice":false,"zero":false},
"axis":{"orient":"right","values":[1040,1050,1060,1070,1080,1090,1100,1110,1120,1130,1140,1150,1160,1170,1180,1190,1200,1210,1220,1230,1240],"labelExpr":"datum.value+\"'0\"","labelFontSize":18,"labelColor":"#131722","labelPadding":15,"labelOverlap":false,"labelFlush":false,"ticks":false,"domain":false,"gridColor":"#f0f1f4","gridWidth":1.5,"labelFontWeight":{"condition":{"test":"datum.value%50==0","value":"bold"},"value":"normal"}}},"y2":{"field":"l"},"color":{"condition":{"test":"datum.c>=datum.o","value":"#5c9a88"},"value":"#c9565f"}}},
{"data":{"values":[{"i":48.66,"i2":255.25,"p":1182.75},{"i":48.66,"i2":255.25,"p":1168.25}]},"mark":{"type":"rule","color":"#3456d1","strokeWidth":4.5,"strokeCap":"round"},"encoding":{"x2":{"field":"i2"}}},
{"data":{"values":[{"i":-0.45,"i2":253.4,"p":1113},{"i":-0.45,"i2":253.4,"p":1085.25}]},"mark":{"type":"rule","color":"#d9444f","strokeWidth":5.5,"strokeCap":"round"},"encoding":{"x2":{"field":"i2"}}},
{"data":{"name":"candles"},"mark":{"type":"bar","size":5.5,"orient":"vertical"},
"encoding":{"y":{"field":"o","type":"quantitative","title":null,"scale":{"domain":[1035.15,1252.49],"nice":false,"zero":false},
"axis":{"orient":"right","values":[1040,1050,1060,1070,1080,1090,1100,1110,1120,1130,1140,1150,1160,1170,1180,1190,1200,1210,1220,1230,1240],"labelExpr":"datum.value+\"'0\"","labelFontSize":18,"labelColor":"#131722","labelPadding":15,"labelOverlap":false,"labelFlush":false,"ticks":false,"domain":false,"gridColor":"#f0f1f4","gridWidth":1.5,"labelFontWeight":{"condition":{"test":"datum.value%50==0","value":"bold"},"value":"normal"}}},"y2":{"field":"c"},"color":{"condition":{"test":"datum.c>=datum.o","value":"#46967f"},"value":"#d9444f"}}},
{"data":{"values":[{"i":-0.45,"i2":336.3,"p":1184.25}]},"mark":{"type":"rule","color":"#8a8e96","strokeWidth":1.4,"strokeDash":[2,4]},"encoding":{"x2":{"field":"i2"}}},
{"data":{"name":"arrows"},"mark":{"type":"line","color":"#68a95f","strokeWidth":5,"strokeCap":"round","strokeJoin":"round"},"encoding":{"detail":{"field":"id"},"order":{"field":"k","type":"quantitative"}}},
{"data":{"values":[{"i":336.3,"i2":348.96,"p":1186.03,"p2":1182.5},{"i":349.4,"i2":362.5,"p":1186.03,"p2":1179.6}]},"mark":{"type":"rect","color":"#46967f","cornerRadius":3},"encoding":{"x2":{"field":"i2"},"y2":{"field":"p2"}}},
{"data":{"values":[{"i":-0.09,"p":1250.08,"s":"Soybean Futures (Aug 2026) · 1D · CBOT"},{"i":47.6,"p":1250.08,"s":"O"},{"i":58.2,"p":1250.08,"s":"H"},{"i":68.85,"p":1250.08,"s":"L"},{"i":79,"p":1250.08,"s":"C"}]},
"mark":{"type":"text","align":"left","baseline":"middle","font":"Roboto","fontSize":17.5,"color":"#131722"},"encoding":{"text":{"field":"s"}}},
{"data":{"values":[{"i":49.38,"p":1250.08,"s":"1140'2"},{"i":60.13,"p":1250.08,"s":"1185'0"},{"i":70.3,"p":1250.08,"s":"1140'2"},{"i":80.76,"p":1250.08,"s":"1184'2"},{"i":89.54,"p":1250.08,"s":"+48'0 (+4.22%)"}]},
"mark":{"type":"text","align":"left","baseline":"middle","font":"Roboto","fontSize":17.5,"color":"#46967f"},"encoding":{"text":{"field":"s"}}},
{"data":{"values":[{"i":355,"p":1250.2,"s":"USX"},{"i":355,"p":1244.8,"s":"BUA"}]},
"mark":{"type":"text","align":"center","baseline":"middle","font":"Roboto","fontSize":17.5,"color":"#131722"},"encoding":{"text":{"field":"s"}}},
{"data":{"values":[{"i":31.08,"p":1206.9,"s":"AUG BEANS"}]},
"mark":{"type":"text","align":"left","baseline":"alphabetic","font":"Roboto","fontSize":58,"fontWeight":900,"fontStyle":"italic","color":"#000000"},"encoding":{"text":{"field":"s"}}},
{"data":{"values":[{"i":81.05,"p":1210.13}]},
"mark":{"type":"point","filled":true,"size":2304,"opacity":1,"color":"#7fb069","shape":"M-0.1 1C-0.12 0.5-0.1 0.1-0.25-0.3L-0.1-0.35C0-0.1 0.05 0 0.1 0.05L0.12 1ZM-1-1C-0.6-1.05-0.2-0.95-0.1-0.35C-0.5-0.3-0.8-0.6-1-1ZM1-0.45C0.6-0.55 0.1-0.5 0.1-0.05C0.5 0 0.85-0.1 1-0.45Z"},"encoding":{}},
{"data":{"values":[{"i":257.45,"p":1182.75,"s":"61.80% (1182'6)"},{"i":257.45,"p":1168.25,"s":"50.00% (1168'2)"}]},
"mark":{"type":"text","align":"left","baseline":"middle","font":"Roboto","fontSize":27,"color":"#3d5fd0"},"encoding":{"text":{"field":"s"}}},
{"data":{"values":[{"i":255.45,"p":1113,"s":"50.00% (1113'0)"},{"i":255.45,"p":1085.25,"s":"61.80% (1085'2)"}]},
"mark":{"type":"text","align":"left","baseline":"middle","font":"Roboto","fontSize":27,"color":"#c8474f"},"encoding":{"text":{"field":"s"}}},
{"data":{"values":[{"i":221.95,"p":1099.1,"s":"GOLDEN ZONE"}]},
"mark":{"type":"text","align":"left","baseline":"middle","font":"Roboto","fontSize":30,"fontWeight":"bold","fontStyle":"italic","color":"#d9444f"},"encoding":{"text":{"field":"s"}}},
{"data":{"values":[{"i":283.1,"p":1151.7,"s":"VOLUME GAP"},{"i":290.05,"p":1100.7,"s":"VOLUME GAP"}]},
"mark":{"type":"text","align":"left","baseline":"middle","font":"Roboto","fontSize":32,"fontWeight":"bold","fontStyle":"italic","color":"#66aa5f"},"encoding":{"text":{"field":"s"}}},
{"data":{"values":[{"i":342.8,"p":1184.2,"s":"ZSQ2026"}]},
"mark":{"type":"text","align":"center","baseline":"middle","font":"Roboto","fontSize":18,"color":"#d8f0e8"},"encoding":{"text":{"field":"s"}}},
{"data":{"values":[{"i":351.1,"p":1184.2,"s":"1184'2"}]},
"mark":{"type":"text","align":"left","baseline":"middle","font":"Roboto","fontSize":18,"color":"#ffffff"},"encoding":{"text":{"field":"s"}}},
{"data":{"values":[{"i":351.1,"p":1181.1,"s":"02:23:07"}]},
"mark":{"type":"text","align":"left","baseline":"middle","font":"Roboto","fontSize":18,"color":"#c4e6da"},"encoding":{"text":{"field":"s"}}},
{"data":{"values":[{"i":250,"p":1037.9}]},
"mark":{"type":"point","shape":"circle","size":616,"filled":false,"opacity":1,"color":"#666a70","strokeWidth":1.8},"encoding":{}},
{"data":{"values":[{"i":250,"p":1037.9}]},
"mark":{"type":"point","filled":true,"size":196,"opacity":1,"color":"#666a70","shape":"M-0.7-1L0.7-1L0.7-0.75L0.15 0L0.7 0.75L0.7 1L-0.7 1L-0.7 0.75L-0.15 0L-0.7-0.75Z"},"encoding":{}}
]
}
]
}
